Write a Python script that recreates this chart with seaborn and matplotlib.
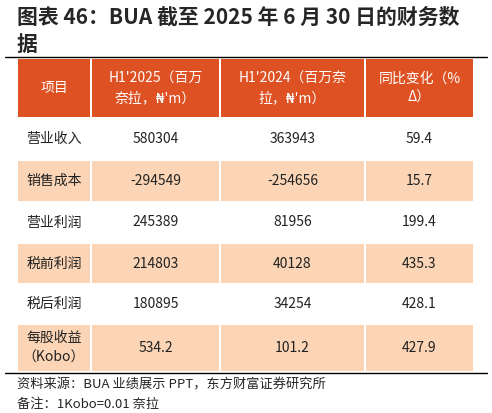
import matplotlib
matplotlib.use('Agg')
import matplotlib.pyplot as plt
import seaborn as sns
from matplotlib.patches import Rectangle

sns.set_theme(style='white')
plt.rcParams['font.family'] = ['Noto Sans CJK SC', 'DejaVu Sans']

title_lines = ['图表 46：BUA 截至 2025 年 6 月 30 日的财务数', '据']
headers = ['项目', "H1'2025（百万\n奈拉，₦'m）", "H1'2024（百万奈\n拉，₦'m）", '同比变化（%\nΔ）']
items = ['营业收入', '销售成本', '营业利润', '税前利润', '税后利润', '每股收益\n（Kobo）']
h1_2025 = ['580304', '-294549', '245389', '214803', '180895', '534.2']
h1_2024 = ['363943', '-254656', '81956', '40128', '34254', '101.2']
yoy = ['59.4', '15.7', '199.4', '435.3', '428.1', '427.9']
notes = ['资料来源：BUA 业绩展示 PPT，东方财富证券研究所', '备注：1Kobo=0.01 奈拉']

col_x = [17, 91, 220, 365, 474]
row_y = [58, 118, 160, 202, 243, 284, 324, 372]
red = '#dd5123'
peach = '#fbd5b5'

fig = plt.figure(figsize=(4.92, 4.13), dpi=100)
ax = fig.add_axes([0, 0, 1, 1])
ax.set_xlim(0, 492)
ax.set_ylim(413, 0)
ax.axis('off')

ax.text(17, 17, title_lines[0], fontsize=15, fontweight='bold', va='center', ha='left')
ax.text(17, 44, title_lines[1], fontsize=15, fontweight='bold', va='center', ha='left')
ax.plot([5, 487], [57, 57], color='black', lw=1)

rows = [headers] + [list(r) for r in zip(items, h1_2025, h1_2024, yoy)]
for r, vals in enumerate(rows):
    y0, y1 = row_y[r], row_y[r + 1]
    if r == 0:
        fc = red
    elif r % 2 == 0:
        fc = peach
    else:
        fc = None
    for c, v in enumerate(vals):
        x0, x1 = col_x[c], col_x[c + 1]
        if fc:
            ax.add_patch(Rectangle((x0 + 0.7, y0 + 0.7), x1 - x0 - 1.4, y1 - y0 - 1.4,
                                   facecolor=fc, edgecolor='none'))
        ax.text((x0 + x1) / 2, (y0 + y1) / 2, v, fontsize=10, ha='center', va='center',
                color='white' if r == 0 else '#222222', linespacing=1.5)

ax.plot([5, 487], [row_y[-1] + 1, row_y[-1] + 1], color='black', lw=1)
ax.text(17, 385, notes[0], fontsize=9.5, va='center', ha='left')
ax.text(17, 404, notes[1], fontsize=9.5, va='center', ha='left')

fig.savefig('out.png', dpi=100)
